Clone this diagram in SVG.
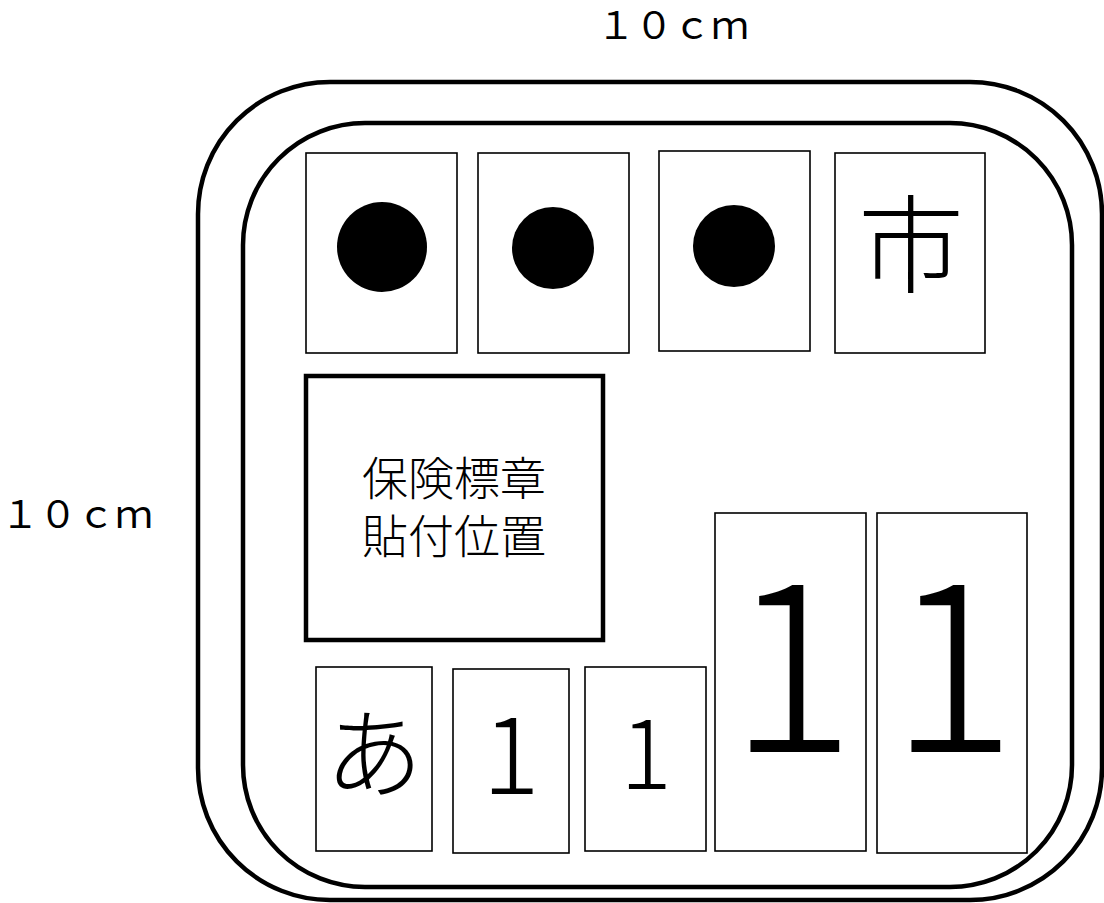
<svg xmlns="http://www.w3.org/2000/svg" width="1104" height="903" viewBox="0 0 1104 903">
<style>
.frame{fill:none;stroke:#000;stroke-width:4.5}
.box{fill:#fff;stroke:#000;stroke-width:1.6}
.thick{fill:#fff;stroke:#000;stroke-width:4.5}
.dot{fill:#000}
.t{font-family:"Noto Sans CJK JP","Noto Sans",sans-serif;font-weight:300;fill:#000;text-anchor:middle}
.lbl{font-family:"Noto Sans CJK JP","Liberation Sans",sans-serif;font-size:38px;fill:#000;text-anchor:middle}
</style>
<rect width="1104" height="903" fill="#fff"/>
<g id="labels">
<text class="lbl" x="673" y="39">１０ｃｍ</text>
<text class="lbl" x="77" y="528">１０ｃｍ</text>
</g>
<g id="plate">
<rect class="frame" x="198" y="82" width="904" height="818" rx="132" ry="132"/>
<rect class="frame" x="243" y="123" width="829" height="764" rx="122" ry="122"/>
</g>
<g id="box-dot1"><rect class="box" x="306" y="153" width="151" height="200"/><circle class="dot" cx="382" cy="247" r="45"/></g>
<g id="box-dot2"><rect class="box" x="478" y="153" width="151" height="200"/><circle class="dot" cx="553" cy="248" r="41"/></g>
<g id="box-dot3"><rect class="box" x="659" y="151" width="151" height="200"/><circle class="dot" cx="734" cy="246" r="41"/></g>
<g id="box-shi"><rect class="box" x="835" y="153" width="150" height="200"/><text class="t" x="911" y="284" font-size="106">市</text></g>
<g id="sticker"><rect class="thick" x="306" y="376" width="297" height="264"/>
<text class="t" x="454" y="495" font-size="46">保険標章</text>
<text class="t" x="454" y="553" font-size="46">貼付位置</text></g>
<g id="box-a"><rect class="box" x="316" y="667" width="116" height="184"/><text class="t" x="374" y="790" font-size="98">あ</text></g>
<g id="box-n1"><rect class="box" x="453" y="669" width="116" height="184"/><text class="t" x="511" y="794" font-size="108">1</text></g>
<g id="box-n2"><rect class="box" x="585" y="667" width="121" height="184"/><text class="t" x="646" y="789" font-size="97">1</text></g>
<g id="box-n3"><rect class="box" x="715" y="513" width="151" height="338"/><text class="t" x="792" y="752" font-size="236">1</text></g>
<g id="box-n4"><rect class="box" x="877" y="513" width="150" height="340"/><text class="t" x="953" y="752" font-size="236">1</text></g>
</svg>
